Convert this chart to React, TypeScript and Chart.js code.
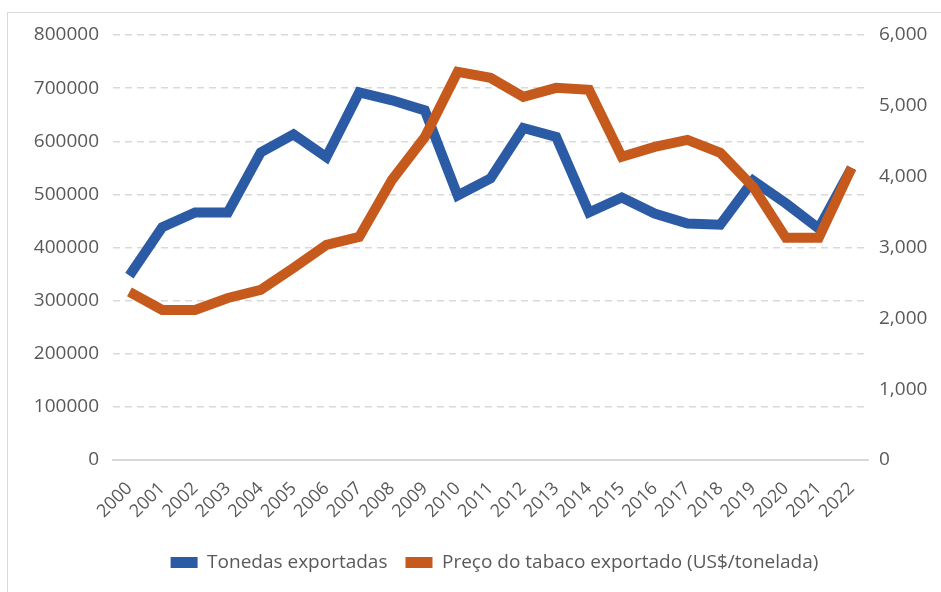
import React, { useEffect, useRef } from "react";
import { Chart, registerables } from "chart.js";

Chart.register(...registerables);

const years = ["2000","2001","2002","2003","2004","2005","2006","2007","2008","2009","2010","2011","2012","2013","2014","2015","2016","2017","2018","2019","2020","2021","2022"];
const toneladas = [347000,438000,466000,466000,579000,613000,570000,692000,677000,658000,498000,530000,625000,608000,466000,494000,464000,445000,443000,526000,483000,436000,550000];
const preco = [2373,2119,2119,2288,2401,2712,3037,3150,3955,4560,5480,5395,5127,5254,5226,4280,4421,4520,4336,3856,3136,3136,4124];
const seriesNames = ["Tonedas exportadas", "Preço do tabaco exportado (US$/tonelada)"];

const BLUE = "#2B5BA5";
const ORANGE = "#C55A1C";
const TEXT = "#595959";
const GRID = "#D9D9D9";
const FONT = "'Open Sans', 'Noto Sans', sans-serif";

// the original chart frame is wider than the visible crop: legend is centred on the wider frame
const legendShift = {
  id: "legendShift",
  afterLayout(chart: any) {
    const lg = chart.legend;
    if (lg) lg.left += 48;
  },
};

export default function App() {
  const ref = useRef<HTMLCanvasElement | null>(null);
  useEffect(() => {
    if (!ref.current) return;
    const defaultGen = Chart.defaults.plugins.legend.labels.generateLabels;
    const chart = new Chart(ref.current, {
      type: "line",
      data: {
        labels: years,
        datasets: [
          {
            label: seriesNames[0],
            data: toneladas,
            borderColor: BLUE,
            backgroundColor: BLUE,
            borderWidth: 10,
            pointRadius: 0,
            tension: 0,
            yAxisID: "y",
            order: 2,
          },
          {
            label: seriesNames[1],
            data: preco,
            borderColor: ORANGE,
            backgroundColor: ORANGE,
            borderWidth: 10,
            pointRadius: 0,
            tension: 0,
            yAxisID: "y1",
            order: 1,
          },
        ],
      },
      plugins: [legendShift],
      options: {
        responsive: false,
        animation: false,
        layout: { padding: { left: 0, right: 0, top: 35, bottom: 10 } },
        plugins: {
          tooltip: { enabled: false },
          legend: {
            position: "bottom",
            labels: {
              boxWidth: 27,
              boxHeight: 11,
              padding: 18,
              color: TEXT,
              font: { family: FONT, size: 19 },
              sort: (a: any, b: any) => a.datasetIndex - b.datasetIndex,
              generateLabels: (c: any) =>
                defaultGen(c).map((l: any) => ({ ...l, lineWidth: 0, fillStyle: l.strokeStyle })),
            },
          },
        },
        scales: {
          x: {
            offset: true,
            grid: { display: false, drawTicks: false },
            border: { display: true, color: GRID, width: 2 },
            ticks: {
              color: TEXT,
              font: { family: FONT, size: 18 },
              minRotation: 45,
              maxRotation: 45,
              padding: 18,
              autoSkip: false,
            },
            afterFit: (s: any) => { s.height = 75; },
          },
          y: {
            position: "left",
            min: 0,
            max: 800000,
            grid: {
              drawTicks: false,
              color: (ctx: any) => (ctx.tick && ctx.tick.value === 0 ? "rgba(0,0,0,0)" : GRID),
              lineWidth: 1.5,
            },
            border: { display: false, dash: [7, 5] },
            ticks: {
              stepSize: 100000,
              color: TEXT,
              padding: 14,
              font: { family: FONT, size: 19 },
              callback: (v: any) => String(v),
            },
            afterFit: (s: any) => { s.width = 113; },
          },
          y1: {
            position: "right",
            min: 0,
            max: 6000,
            grid: { display: false, drawTicks: false },
            border: { display: false },
            ticks: {
              stepSize: 1000,
              color: TEXT,
              padding: 11,
              font: { family: FONT, size: 19 },
              callback: (v: any) => Number(v).toLocaleString("en-US"),
            },
            afterFit: (s: any) => { s.width = 73; },
          },
        },
      },
    });
    return () => chart.destroy();
  }, []);
  return (
    <div style={{ position: "fixed", left: 0, top: 0, width: 941, height: 592, background: "#fff", overflow: "hidden" }}>
      <div style={{ position: "absolute", left: 7, top: 12, width: 960, height: 620, border: "1px solid #D9D9D9" }} />
      <canvas ref={ref} width={941} height={592} style={{ position: "absolute", left: 0, top: 0 }} />
    </div>
  );
}
